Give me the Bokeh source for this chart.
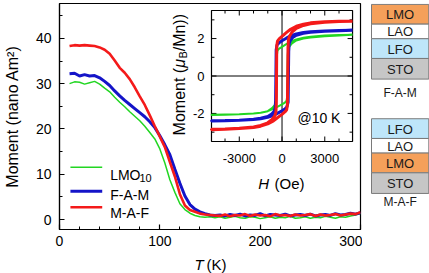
from bokeh.plotting import figure
from bokeh.models import Range1d, FixedTicker, Label, ColumnDataSource
from bokeh.layouts import row, column
from bokeh.embed import file_html
from bokeh.resources import INLINE
from bokeh.core.properties import value

# ---------------- data: main panel, moment vs temperature ----------------
temperature = [10, 15, 20, 25, 30, 35, 40, 45, 50, 55, 60, 65, 70, 75, 80, 85, 90, 95,
               100, 105, 110, 115, 120, 125, 130, 135, 140, 145, 150, 155, 160, 165,
               170, 175, 180, 185, 190, 195, 200, 205, 210, 215, 220, 225, 230, 235,
               240, 245, 250, 255, 260, 265, 270, 275, 280, 285, 290, 295, 300]
moment_lmo10 = [30.0, 30.4, 30.3, 29.9, 30.2, 30.5, 29.9, 29.0, 28.2, 27.0,
                25.9, 24.9, 23.8, 22.8, 21.8, 20.6, 19.2, 17.8, 15.6, 12.5,
                8.8, 6.0, 3.5, 2.2, 1.4, 0.9, 0.6, 0.5, 0.6,
                0.4, 0.6, 0.3, 0.5, 0.7, 0.4, 0.3, 0.6, 0.5, 0.2,
                0.4, 0.6, 0.3, 0.5, 0.4, 0.7, 0.3, 0.4, 0.6, 0.3,
                0.5, 0.4, 0.7, 0.5, 0.3, 0.6, 0.5, 0.8, 1.0, 1.3]
moment_fam = [32.2, 32.3, 31.7, 32.0, 31.7, 31.8, 31.3, 30.5, 29.6, 28.4,
              27.3, 26.3, 25.4, 24.5, 23.6, 22.7, 21.6, 20.3, 18.5, 16.5,
              14.3, 11.1, 8.0, 5.2, 3.3, 2.3, 1.7, 1.3, 1.0,
              0.9, 1.0, 0.8, 1.1, 0.9, 1.2, 0.8, 1.0, 0.9, 1.3,
              0.8, 1.1, 1.0, 0.9, 1.2, 0.8, 1.0, 1.1, 0.9, 1.2,
              0.8, 1.0, 1.1, 0.9, 1.3, 1.0, 1.1, 1.4, 1.2, 1.5]
moment_maf = [38.3, 38.5, 38.4, 38.5, 38.4, 38.3, 38.0, 37.5, 36.6, 35.1,
              33.5, 32.4, 31.0, 29.2, 27.2, 25.3, 23.0, 20.6, 18.3, 16.0,
              12.7, 9.5, 5.6, 3.1, 2.1, 1.7, 1.3, 1.1, 1.0,
              0.9, 0.8, 1.1, 0.7, 1.0, 0.9, 1.2, 0.8, 1.1, 0.9,
              1.0, 0.7, 1.2, 0.9, 1.0, 0.8, 1.1, 0.9, 1.0, 1.2,
              0.8, 1.1, 0.9, 1.0, 1.2, 0.9, 1.1, 1.3, 1.2, 1.6]
series_names = ["LMO", "F-A-M", "M-A-F"]
series_subscripts = ["10", "", ""]
main_x_ticks = [0, 100, 200, 300]
main_x_minor = [0, 20, 40, 60, 80, 100, 120, 140, 160, 180, 200, 220, 240, 260, 280, 300]
main_y_ticks = [0, 10, 20, 30, 40]
main_y_minor = [0, 5, 10, 15, 20, 25, 30, 35, 40, 45]

# ---------------- data: inset, hysteresis loops at 10 K ----------------
h_lmo10_down = [4950, 4000, 3000, 2000, 1500, 1000, 600, 300, 0, -200, -320, -360, -380,
                -400, -430, -500, -700, -1000, -1500, -2000, -3000, -4000, -4950]
m_lmo10_down = [2.21, 2.19, 2.16, 2.10, 2.04, 1.95, 1.83, 1.70, 1.56, 1.46, 1.36, 1.10, 0.0,
                -1.10, -1.40, -1.55, -1.72, -1.88, -1.97, -2.01, -2.05, -2.06, -2.07]
h_lmo10_up = [-4950, -4000, -3000, -2000, -1500, -1000, -600, -300, 0, 200, 320, 360, 380,
              400, 430, 500, 700, 1000, 1500, 2000, 3000, 4000, 4950]
m_lmo10_up = [-2.08, -2.07, -2.05, -2.01, -1.96, -1.88, -1.76, -1.64, -1.52, -1.42, -1.32, -1.10, 0.0,
              1.10, 1.40, 1.56, 1.74, 1.90, 2.00, 2.06, 2.13, 2.17, 2.20]
h_fam_down = [4950, 4000, 3000, 2000, 1500, 1000, 600, 300, 0, -200, -350, -410, -430,
              -450, -480, -550, -700, -1000, -1500, -2000, -3000, -4000, -4950]
m_fam_down = [2.44, 2.43, 2.41, 2.37, 2.32, 2.25, 2.14, 2.02, 1.88, 1.78, 1.66, 1.40, 0.0,
              -1.30, -1.70, -1.88, -2.02, -2.16, -2.26, -2.31, -2.36, -2.38, -2.39]
h_fam_up = [-4950, -4000, -3000, -2000, -1500, -1000, -600, -300, 0, 200, 350, 430, 450,
            470, 500, 580, 750, 1000, 1500, 2000, 3000, 4000, 4950]
m_fam_up = [-2.40, -2.39, -2.37, -2.33, -2.28, -2.21, -2.10, -1.98, -1.86, -1.76, -1.64, -1.40, 0.0,
            1.30, 1.70, 1.90, 2.06, 2.18, 2.28, 2.34, 2.39, 2.42, 2.44]
h_maf_down = [4950, 4000, 3000, 2000, 1500, 1000, 600, 300, 0, -200, -320, -370, -385,
              -400, -430, -500, -700, -1000, -1500, -2000, -3000, -4000, -4950]
m_maf_down = [2.93, 2.92, 2.90, 2.84, 2.77, 2.66, 2.50, 2.32, 2.12, 1.98, 1.86, 1.60, 0.0,
              -1.50, -1.95, -2.12, -2.32, -2.50, -2.64, -2.72, -2.79, -2.83, -2.85]
h_maf_up = [-4950, -4000, -3000, -2000, -1500, -1000, -600, -300, 0, 200, 330, 380, 400,
            420, 450, 520, 700, 1000, 1500, 2000, 3000, 4000, 4950]
m_maf_up = [-2.87, -2.85, -2.81, -2.75, -2.68, -2.56, -2.40, -2.22, -2.05, -1.92, -1.80, -1.50, 0.0,
            1.50, 1.95, 2.12, 2.34, 2.55, 2.70, 2.79, 2.87, 2.91, 2.93]
inset_x_ticks = [-3000, 0, 3000]
inset_x_minor = [-4000, -2000, -1000, 1000, 2000, 4000]
inset_y_ticks = [-2, 0, 2]
inset_y_minor = [-3, -1, 1, 3]

# ---------------- data: sample schematics ----------------
stack_fam = ["LMO", "LAO", "LFO", "STO"]
stack_maf = ["LFO", "LAO", "LMO", "STO"]
stack_titles = ["F-A-M", "M-A-F"]

# ---------------- styles / layout ----------------
FONT = "Liberation Sans"
COLORS = ["#22D622", "#1414C8", "#F41A1A"]
MAIN_WIDTHS = [1.5, 3.0, 2.6]
INSET_WIDTHS = [2.0, 3.0, 3.0]
LAYER_STYLE = {"LMO": ("#F5A05A", 22.0), "LAO": ("#FFFFFF", 16.3),
               "LFO": ("#BEE6FA", 22.0), "STO": ("#C6C6C6", 23.0)}

W_TOT, H_TOT = 429, 273
W_MAIN, H_MAIN = 362, 252
FL, FR, FT, FB = 57, 360, 3, 229          # main frame in canvas px
XR = (0, 300)
YR = (-2.2, 47.7)


def mx(px):
    return XR[0] + (px - FL) * (XR[1] - XR[0]) / (FR - FL)


def my(py):
    return YR[1] - (py - FT) * (YR[1] - YR[0]) / (FB - FT)


IL, IR, IT, IB = 210, 352, 10, 141       # inset frame in canvas px
HXR = (-4950, 4950)
HYR = (-3.5, 3.5)
kx = (HXR[1] - HXR[0]) / (IR - IL)
ky = (HYR[1] - HYR[0]) / (IB - IT)


def ix(px):
    return HXR[0] + (px - IL) * kx


def iy(py):
    return HYR[1] - (py - IT) * ky


p = figure(width=W_MAIN, height=H_MAIN, x_range=Range1d(*XR), y_range=Range1d(*YR),
           min_border_left=FL, min_border_right=W_MAIN - FR,
           min_border_top=FT, min_border_bottom=H_MAIN - FB,
           toolbar_location=None, output_backend="svg")
p.extra_x_ranges = {"hx": Range1d(HXR[0] - (IL - FL) * kx, HXR[1] + (FR - IR) * kx)}
p.extra_y_ranges = {"hy": Range1d(HYR[0] - (FB - IB) * ky, HYR[1] + (IT - FT) * ky)}
p.grid.visible = False
p.outline_line_color = "black"
p.outline_line_width = 1.2
p.background_fill_color = "white"
p.border_fill_color = "white"

p.xaxis.ticker = FixedTicker(ticks=main_x_ticks, minor_ticks=main_x_minor)
p.yaxis.ticker = FixedTicker(ticks=main_y_ticks, minor_ticks=main_y_minor)
for ax in (p.xaxis[0], p.yaxis[0]):
    ax.major_tick_in = 5
    ax.major_tick_out = 0
    ax.minor_tick_in = 3
    ax.minor_tick_out = 0
    ax.axis_line_width = 1.2
    ax.major_tick_line_width = 1.2
    ax.minor_tick_line_width = 1.0
    ax.major_label_text_font = FONT
    ax.major_label_text_font_size = "14px"
    ax.major_label_text_color = "black"
p.xaxis.major_label_standoff = 6
p.yaxis.major_label_standoff = 8
p.yaxis.axis_label = "Moment (nano Am\u00b2)"
p.yaxis.axis_label_text_font = FONT
p.yaxis.axis_label_text_font_size = "16px"
p.yaxis.axis_label_text_font_style = "normal"
p.yaxis.axis_label_text_color = "black"
p.yaxis.axis_label_standoff = 12

# main curves
for vals, c, w in zip([moment_lmo10, moment_fam, moment_maf], COLORS, MAIN_WIDTHS):
    p.line(temperature, vals, line_color=c, line_width=w)

# legend (manual, to allow the subscript)
legend_line_y = [166.7, 190.7, 206.7]
legend_text_base = [174.0, 194.3, 212.5]
for name, sub, c, w, ly, tb in zip(series_names, series_subscripts, COLORS, MAIN_WIDTHS,
                                   legend_line_y, legend_text_base):
    p.segment(x0=[mx(68)], y0=[my(ly)], x1=[mx(100)], y1=[my(ly)], line_color=c, line_width=w)
    p.add_layout(Label(x=mx(108), y=my(tb), text=name, text_font=FONT, text_font_size="14px",
                       text_align="left", text_baseline="alphabetic", text_color="black"))
    if sub:
        p.add_layout(Label(x=mx(137.5), y=my(tb + 3.3), text=sub, text_font=FONT,
                           text_font_size="11px", text_align="left",
                           text_baseline="alphabetic", text_color="black"))

# ---------------- inset ----------------
R = dict(x_range_name="hx", y_range_name="hy")
p.quad(left=[HXR[0]], right=[HXR[1]], bottom=[HYR[0]], top=[HYR[1]],
       fill_color="white", line_color="black", line_width=1.2, **R)
p.segment(x0=[0, HXR[0]], y0=[HYR[0], 0], x1=[0, HXR[1]], y1=[HYR[1], 0],
          line_color="black", line_width=1.0, **R)

MAJ, MIN = 5, 3
tx0, ty0, tx1, ty1 = [], [], [], []
for ticks, ln in ((inset_x_ticks, MAJ), (inset_x_minor, MIN)):
    for t in ticks:
        tx0 += [t, t]
        tx1 += [t, t]
        ty0 += [HYR[0], HYR[1]]
        ty1 += [HYR[0] + ln * ky, HYR[1] - ln * ky]
for ticks, ln in ((inset_y_ticks, MAJ), (inset_y_minor, MIN)):
    for t in ticks:
        ty0 += [t, t]
        ty1 += [t, t]
        tx0 += [HXR[0], HXR[1]]
        tx1 += [HXR[0] + ln * kx, HXR[1] - ln * kx]
p.segment(x0=tx0, y0=ty0, x1=tx1, y1=ty1, line_color="black", line_width=1.0, **R)

loops = [(h_lmo10_down, m_lmo10_down, h_lmo10_up, m_lmo10_up),
         (h_fam_down, m_fam_down, h_fam_up, m_fam_up),
         (h_maf_down, m_maf_down, h_maf_up, m_maf_up)]
for (hd, md, hu, mu), c, w in zip(loops, COLORS, INSET_WIDTHS):
    p.line(hd + hu, md + mu, line_color=c, line_width=w, **R)

p.text(x=inset_x_ticks, y=[iy(158.3)] * len(inset_x_ticks),
       text=[str(t) for t in inset_x_ticks], text_font=value(FONT),
       text_font_size=value("13px"), text_align="center", text_baseline="alphabetic",
       text_color="black", **R)
p.text(x=[ix(203)] * len(inset_y_ticks), y=inset_y_ticks,
       text=[str(t) for t in inset_y_ticks], text_font=value(FONT),
       text_font_size=value("13px"), text_align="right", text_baseline="middle",
       text_color="black", **R)

p.add_layout(Label(x=ix(296.5), y=iy(117.3), text="@10 K", text_font=FONT, text_font_size="14px",
                   text_align="left", text_baseline="alphabetic", text_color="black", **R))
p.add_layout(Label(x=ix(257), y=iy(183.0), text="H", text_font=FONT, text_font_size="15px",
                   text_font_style="italic", text_align="left", text_baseline="alphabetic",
                   text_color="black", **R))
p.add_layout(Label(x=ix(273.5), y=iy(183.0), text="(Oe)", text_font=FONT, text_font_size="15px",
                   text_align="left", text_baseline="alphabetic", text_color="black", **R))

# inset y label, rotated, built from pieces (italic mu, subscript B)
ANG = 1.5707963
yl_base = 178.0
parts = [("Moment (", "16px", "normal", 0.0, 67.6),
         ("\u03bc", "16px", "italic", 0.0, 9.2),
         ("B", "11px", "normal", 3.5, 7.3),
         ("/Mn))", "16px", "normal", 0.0, 37.3)]
ypos = 74.2 + sum(q[4] for q in parts) / 2
for txt, fs, st, shift, ln in parts:
    p.add_layout(Label(x=ix(yl_base + shift), y=iy(ypos), text=txt, angle=ANG, text_font=FONT,
                       text_font_size=fs, text_font_style=st, text_align="left",
                       text_baseline="alphabetic", text_color="black", **R))
    ypos -= ln

# ---------------- schematic panel ----------------
W_S = W_TOT - W_MAIN
ps = figure(width=W_S, height=H_MAIN, x_range=Range1d(0, W_S), y_range=Range1d(H_MAIN, 0),
            x_axis_location=None, y_axis_location=None, min_border=0,
            toolbar_location=None, output_backend="svg")
ps.grid.visible = False
ps.outline_line_color = None
ps.background_fill_color = "white"
ps.border_fill_color = "white"

BX0, BX1 = 9.0, 66.3
stack_tops = [1.0, 128.5]
title_centers = [99.5, 221.5]
qs = dict(left=[], right=[], top=[], bottom=[], color=[], xc=[], yc=[], label=[])
for stack, top in zip([stack_fam, stack_maf], stack_tops):
    y = top
    for name in stack:
        col, hgt = LAYER_STYLE[name]
        qs["left"].append(BX0)
        qs["right"].append(BX1)
        qs["top"].append(y)
        qs["bottom"].append(y + hgt)
        qs["color"].append(col)
        qs["xc"].append((BX0 + BX1) / 2)
        qs["yc"].append(y + hgt / 2 + 0.5)
        qs["label"].append(name)
        y += hgt
src = ColumnDataSource(qs)
ps.quad(left="left", right="right", top="top", bottom="bottom", fill_color="color",
        line_color="#7A7A7A", line_width=1.0, source=src)
ps.text(x="xc", y="yc", text="label", source=src, text_font=value(FONT),
        text_font_size=value("13px"), text_align="center", text_baseline="middle",
        text_color="#1A1A1A")
ps.text(x=[(BX0 + BX1) / 2] * 2, y=title_centers, text=stack_titles, text_font=value(FONT),
        text_font_size=value("12px"), text_align="center", text_baseline="middle",
        text_color="#1A1A1A")

# ---------------- bottom strip with the x-axis title ----------------
H_STRIP = H_TOT - H_MAIN
pb = figure(width=W_TOT, height=H_STRIP, x_range=Range1d(0, W_TOT), y_range=Range1d(H_STRIP, 0),
            x_axis_location=None, y_axis_location=None, min_border=0,
            toolbar_location=None, output_backend="svg")
pb.grid.visible = False
pb.outline_line_color = None
pb.background_fill_color = "white"
pb.border_fill_color = "white"
x_title = ["T", "(K)"]
x_title_styles = ["italic", "normal"]
x_title_left = [194.0, 206.0]
for txt, st, xl in zip(x_title, x_title_styles, x_title_left):
    pb.text(x=[xl], y=[264.0 - H_MAIN], text=[txt], text_font=value(FONT),
            text_font_size=value("15px"), text_font_style=value(st), text_align="left",
            text_baseline="alphabetic", text_color="black")

layout = column(row(p, ps), pb)
open("out.html", "w").write(file_html(layout, INLINE))
